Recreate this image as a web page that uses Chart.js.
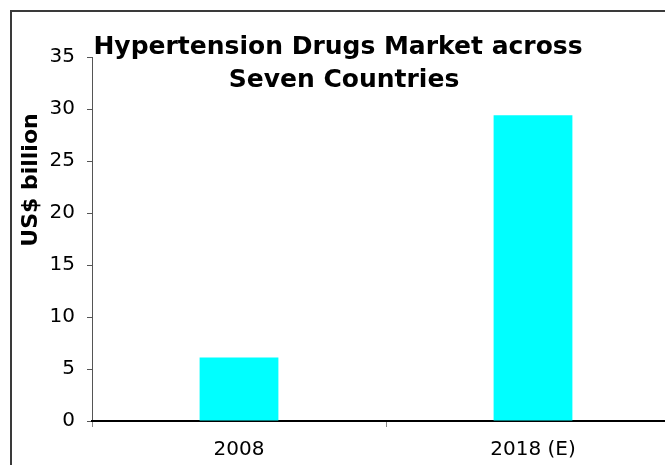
<!DOCTYPE html>
<html>
<head>
<meta charset="utf-8">
<script src="https://cdn.jsdelivr.net/npm/chart.js@4/dist/chart.umd.min.js"></script>
<style>
    html, body { margin: 0; padding: 0; background: #fff; overflow: hidden; }
    #wrap { position: relative; width: 665px; height: 465px; overflow: hidden; }
    #char_market { position: absolute; left: 0; top: 0; }
    #frame {
        position: absolute; left: 10px; top: 10px; width: 700px; height: 500px;
        border: 2px solid #3a3a3a; pointer-events: none;
    }
</style>
</head>
<body>
<div id="wrap">
    <canvas id="char_market" width="700" height="465"></canvas>
    <div id="frame"></div>
</div>
<script>
var categories = ["2008", "2018 (E)"];
var marketValues = [6.1, 29.4];
var yTicks = [0, 5, 10, 15, 20, 25, 30, 35];
var titleLines = ["Hypertension Drugs Market across", "Seven Countries"];
var yAxisTitle = "US$ billion";

// title and axis title sit where the original put them, not where Chart.js would
var textPlugin = {
    id: "freeText",
    afterDraw: function (chart) {
        var ctx = chart.ctx;
        ctx.save();
        ctx.fillStyle = "#000";
        ctx.textAlign = "center";
        ctx.textBaseline = "alphabetic";
        ctx.font = "bold 25px 'DejaVu Sans'";
        ctx.fillText(titleLines[0], 338, 54);
        ctx.fillText(titleLines[1], 344, 87);
        ctx.translate(37, 180);
        ctx.rotate(-Math.PI / 2);
        ctx.font = "bold 22px 'DejaVu Sans'";
        ctx.fillText(yAxisTitle, 0, 0);
        ctx.restore();
    },
};

function drawMarketChart() {
    var chart = document.getElementById("char_market");
    if (chart != null) {
        var charMarket = chart.getContext("2d");
        var myCharMarket = new Chart(charMarket, {
            type: "bar",
            data: {
                labels: categories,
                datasets: [
                    {
                        backgroundColor: "#00FFFF",
                        data: marketValues,
                        barPercentage: 0.268,
                        categoryPercentage: 1,
                    },
                ],
            },
            plugins: [textPlugin],
            options: {
                responsive: false,
                animation: false,
                layout: {
                    padding: { left: 0, top: 57, right: 20, bottom: 0 },
                },
                plugins: {
                    legend: { display: false },
                    tooltip: { enabled: false },
                },
                scales: {
                    y: {
                        min: 0,
                        max: 35,
                        afterFit: function (scale) { scale.width = 92; },
                        afterBuildTicks: function (scale) {
                            scale.ticks = yTicks.map(function (v) { return { value: v }; });
                        },
                        ticks: {
                            color: "#000",
                            padding: 12,
                            font: { family: "'DejaVu Sans'", size: 20 },
                        },
                        grid: {
                            drawOnChartArea: false,
                            drawTicks: true,
                            tickLength: 5,
                            color: "#555",
                        },
                        border: { color: "#555", width: 1 },
                    },
                    x: {
                        afterFit: function (scale) { scale.height = 44; },
                        ticks: {
                            color: "#000",
                            padding: 11,
                            font: { family: "'DejaVu Sans'", size: 20 },
                        },
                        grid: {
                            drawOnChartArea: false,
                            drawTicks: true,
                            tickLength: 6,
                            color: "#888",
                        },
                        border: { color: "#000", width: 2 },
                    },
                },
            },
        });
    }
}

drawMarketChart();
</script>
</body>
</html>
